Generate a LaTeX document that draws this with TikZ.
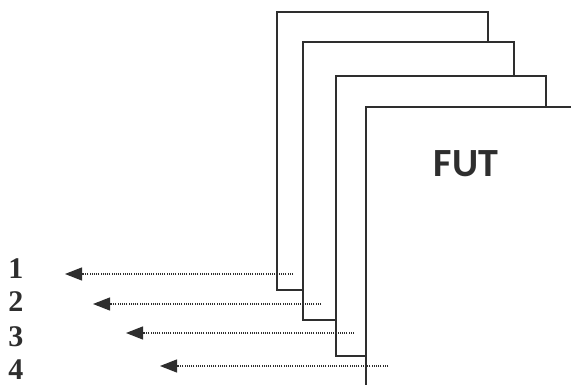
\documentclass[tikz,border=0pt]{standalone}
\usepackage{fontspec}
\setmainfont{Liberation Serif}
\newfontfamily\futfont{Carlito}
\usetikzlibrary{arrows.meta}
\definecolor{ink}{HTML}{2E2E2E}
\begin{document}
\begin{tikzpicture}[x=1pt,y=-1pt,
  sheet/.style={draw=ink,line width=2.2pt,fill=white},
  probe/.style={draw=ink,line width=1.3pt,dash pattern=on 1.1pt off 1.1pt,
    -{Triangle[length=17pt,width=13pt,fill=ink,sep=0pt]}},
  numlabel/.style={font=\bfseries\fontsize{30}{30}\selectfont,text=ink,inner sep=0pt}]
\useasboundingbox (0,0) rectangle (571,385);
\clip (0,0) rectangle (571,385);
\path[sheet] (277,12) rectangle (488,290);
\path[sheet] (303,42) rectangle (514,320);
\path[sheet] (336,76) rectangle (546,356);
\path[sheet] (366,107) rectangle (600,420);
\node[font=\futfont\bfseries\fontsize{40}{40}\selectfont,text=ink,inner sep=0pt] (fut) at (466,164) {FUT};
\node[numlabel] (n1) at (16,269) {1};
\node[numlabel] (n2) at (16,302) {2};
\node[numlabel] (n3) at (16,337) {3};
\node[numlabel] (n4) at (16,370) {4};
\coordinate (s1) at (293,274); \coordinate (e1) at (65,274);
\coordinate (s2) at (321,304); \coordinate (e2) at (93,304);
\coordinate (s3) at (354,333); \coordinate (e3) at (126,333);
\coordinate (s4) at (388,366); \coordinate (e4) at (160,366);
\draw[probe] (s1) -- (e1);
\draw[probe] (s2) -- (e2);
\draw[probe] (s3) -- (e3);
\draw[probe] (s4) -- (e4);
\end{tikzpicture}
\end{document}
